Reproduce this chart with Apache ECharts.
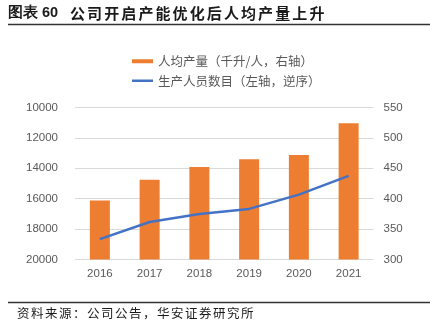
<!DOCTYPE html>
<html>
<head>
<meta charset="utf-8">
<script src="https://cdn.jsdelivr.net/npm/echarts@6/dist/echarts.min.js"></script>
<style>
  html, body { margin: 0; padding: 0; background: #fff; }
  #chart { width: 430px; height: 326px; }
</style>
</head>
<body>
<div id="chart"></div>
<script>
// Years on the category axis
const years = ['2016', '2017', '2018', '2019', '2020', '2021'];
// Output per employee (thousand litres / person), right axis
const outputPerHead = [397, 431, 452, 465, 472, 524];
// Production staff headcount, left axis (inverted)
const headcount = [18660, 17530, 17000, 16670, 15730, 14500];

const barName = '人均产量（千升/人，右轴）';
const lineName = '生产人员数目（左轴，逆序）';
const titleLabel = '图表 60';
const titleText = '公司开启产能优化后人均产量上升';
const sourceText = '资料来源：公司公告，华安证券研究所';

const cjk = '"Noto Sans CJK SC", "Liberation Sans", sans-serif';
const num = '"Liberation Sans", Arial, sans-serif';

// Lay out a string one glyph at a time with a fixed advance (wide CJK spacing)
function spacedText(str, x, y, advance, font, fill) {
  return Array.from(str).map((ch, i) => ({
    type: 'text',
    x: x + i * advance,
    y: y,
    style: { text: ch, font: font, fill: fill, textVerticalAlign: 'middle' }
  }));
}

const chart = echarts.init(document.getElementById('chart'), null, { renderer: 'canvas' });

const graphics = [
  {
    type: 'text', x: 8, y: 13,
    style: { text: titleLabel, font: 'bold 14.5px ' + num, fill: '#1a1a1a', textVerticalAlign: 'middle' }
  }
].concat(
  spacedText(titleText, 70, 13, 17.1, 'bold 15px ' + cjk, '#1a1a1a'),
  [
    {
      type: 'line', shape: { x1: 8, y1: 24.5, x2: 430, y2: 24.5 },
      style: { stroke: '#333333', lineWidth: 1.5 }
    },
    {
      type: 'line', shape: { x1: 8, y1: 302.5, x2: 430, y2: 302.5 },
      style: { stroke: '#333333', lineWidth: 1.3 }
    }
  ],
  spacedText(sourceText, 17, 313.5, 14, '12.5px ' + cjk, '#1a1a1a')
);

chart.setOption({
  backgroundColor: '#ffffff',
  animation: false,
  graphic: graphics,
  legend: {
    orient: 'vertical',
    left: 127,
    top: 50,
    itemWidth: 21,
    itemHeight: 14,
    itemGap: 7,
    textStyle: { color: '#595959', fontSize: 12.5, fontFamily: cjk },
    data: [
      { name: barName, icon: 'path://M0,0H21V4H0Z' },
      { name: lineName, icon: 'path://M0,0H21V2.5H0Z', itemStyle: { color: '#4472c4' } }
    ]
  },
  grid: { left: 75, right: 56.5, top: 107.5, bottom: 66.5 },
  xAxis: {
    type: 'category',
    data: years,
    axisLine: { show: false },
    axisTick: { show: false },
    axisLabel: { color: '#595959', fontSize: 11.5, fontFamily: num, margin: 8 }
  },
  yAxis: [
    {
      type: 'value',
      min: 10000, max: 20000, interval: 2000,
      inverse: true,
      position: 'left',
      axisLine: { show: false },
      axisTick: { show: false },
      axisLabel: {
        color: '#595959', fontSize: 11.5, fontFamily: num, margin: 17,
        formatter: (v) => String(v)
      },
      splitLine: { lineStyle: { color: '#d9d9d9', width: 1 } }
    },
    {
      type: 'value',
      min: 300, max: 550, interval: 50,
      position: 'right',
      axisLine: { show: false },
      axisTick: { show: false },
      axisLabel: { color: '#595959', fontSize: 11.5, fontFamily: num, margin: 10 },
      splitLine: { show: false }
    }
  ],
  series: [
    {
      name: barName,
      type: 'bar',
      yAxisIndex: 1,
      data: outputPerHead,
      barWidth: 20,
      itemStyle: { color: '#ed7d31' }
    },
    {
      name: lineName,
      type: 'line',
      yAxisIndex: 0,
      data: headcount,
      symbol: 'none',
      lineStyle: { color: '#4472c4', width: 2.5 },
      itemStyle: { color: '#4472c4' }
    }
  ]
});
</script>
</body>
</html>
